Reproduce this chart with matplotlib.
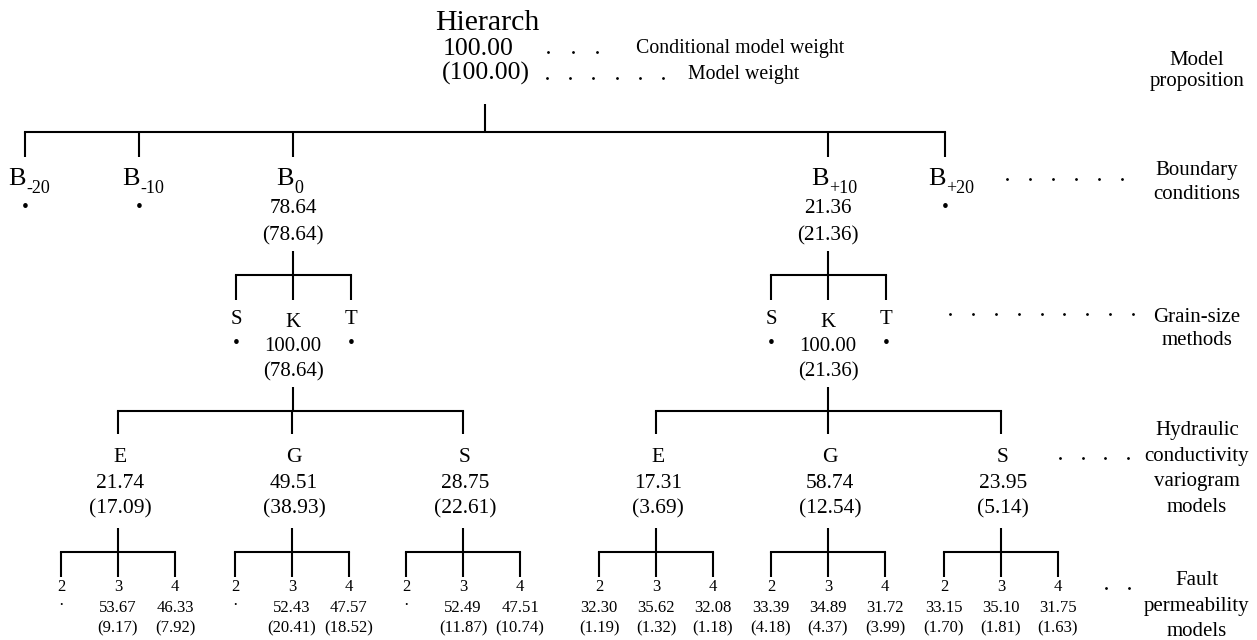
import matplotlib
matplotlib.use("Agg")
from matplotlib import pyplot as plt
import numpy as np

plt.rcParams["font.family"] = ["Liberation Serif", "DejaVu Serif"]

# model weights (conditional, overall); None = model not retained
root_cond = 100.00
root_weight = 100.00

bc_names = ["-20", "-10", "0", "+10", "+20"]
bc_cond = [None, None, 78.64, 21.36, None]
bc_weight = [None, None, 78.64, 21.36, None]

gs_names = ["S", "K", "T"]
gs_cond = [[None, 100.00, None], [None, 100.00, None]]
gs_weight = [[None, 78.64, None], [None, 21.36, None]]

var_names = ["E", "G", "S"]
var_cond = [[21.74, 49.51, 28.75], [17.31, 58.74, 23.95]]
var_weight = [[17.09, 38.93, 22.61], [3.69, 12.54, 5.14]]

fault_names = ["2", "3", "4"]
fault_cond = [
    [[None, 53.67, 46.33], [None, 52.43, 47.57], [None, 52.49, 47.51]],
    [[32.30, 35.62, 32.08], [33.39, 34.89, 31.72], [33.15, 35.10, 31.75]],
]
fault_weight = [
    [[None, 9.17, 7.92], [None, 20.41, 18.52], [None, 11.87, 10.74]],
    [[1.19, 1.32, 1.18], [4.18, 4.37, 3.99], [1.70, 1.81, 1.63]],
]

level_labels = [
    ["Model", "proposition"],
    ["Boundary", "conditions"],
    ["Grain-size", "methods"],
    ["Hydraulic", "conductivity", "variogram", "models"],
    ["Fault", "permeability", "models"],
]

W, H = 1257, 640
fig = plt.figure(figsize=(W / 100, H / 100), dpi=100)
ax = fig.add_axes([0, 0, 1, 1])
ax.set_xlim(0, W)
ax.set_ylim(H, 0)
ax.axis("off")

LW = 1.5


def bracket(px, y_top, y_bar, y_bot, xs):
    ax.plot([px, px], [y_top, y_bar], color="k", lw=LW, solid_capstyle="butt")
    ax.plot([min(xs), max(xs)], [y_bar, y_bar], color="k", lw=LW, solid_capstyle="projecting")
    for x in xs:
        ax.plot([x, x], [y_bar, y_bot], color="k", lw=LW, solid_capstyle="butt")


def leader(x0, x1, n, y):
    xs = np.linspace(x0, x1, n)
    ax.plot(xs, [y] * n, "k.", markersize=2)


def txt(x, y, s, size=15, **kw):
    ax.text(x, y, s, fontsize=size, ha="center", va="baseline", **kw)


# root
txt(487, 30, "Hierarch", size=21.5)
txt(478, 55, f"{root_cond:.2f}", size=18.5)
txt(486, 80, f"({root_weight:.2f})", size=18.5)
leader(548, 597, 3, 52)
leader(547, 663, 6, 78)
ax.text(636, 53, "Conditional model weight", fontsize=14.3, ha="left", va="baseline")
ax.text(688, 79, "Model weight", fontsize=14.3, ha="left", va="baseline")

# boundary conditions
bc_x = [25, 139, 293, 828, 945]
bracket(485, 104, 132, 157, bc_x)
for x, name, c, w in zip(bc_x, bc_names, bc_cond, bc_weight):
    ax.text(x + 1, 185, "B", fontsize=19, ha="right", va="baseline")
    ax.text(x + 1, 193, name, fontsize=13, ha="left", va="baseline")
    if c is None:
        ax.text(x, 207, "\u2022", fontsize=14, ha="center", va="center")
    else:
        txt(x, 213, f"{c:.2f}", size=15.3)
        txt(x, 240, f"({w:.2f})", size=15.3)

# grain-size methods, variograms, faults under retained boundaries
parents = [293, 828]
gs_offsets = [-57, 0, 58]
var_x = [[118, 292, 463], [656, 828, 1001]]
leaf_off = [-57, 0, 57]
for i, px in enumerate(parents):
    gx = [px + o for o in gs_offsets]
    bracket(px, 251, 275, 300, gx)
    for j, (x, name) in enumerate(zip(gx, gs_names)):
        c = gs_cond[i][j]
        w = gs_weight[i][j]
        if c is None:
            txt(x, 324, name)
            ax.text(x, 344, "\u2022", fontsize=14, ha="center", va="center")
        else:
            txt(x, 327, name)
            txt(x, 351, f"{c:.2f}")
            txt(x, 376, f"({w:.2f})")

    bracket(px, 387, 411, 434, var_x[i])
    for j, x in enumerate(var_x[i]):
        txt(x + 2, 462, var_names[j], size=15.5)
        txt(x + 2, 488, f"{var_cond[i][j]:.2f}", size=15.5)
        txt(x + 2, 513, f"({var_weight[i][j]:.2f})", size=15.5)

        lx = [x + o for o in leaf_off]
        bracket(x, 528, 552, 577, lx)
        for k, (x2, name) in enumerate(zip(lx, fault_names)):
            txt(x2, 591, name, size=12)
            c = fault_cond[i][j][k]
            w = fault_weight[i][j][k]
            if c is None:
                ax.text(x2, 606, "\u00b7", fontsize=12, ha="center", va="center")
            else:
                txt(x2, 612, f"{c:.2f}", size=12)
                txt(x2, 632, f"({w:.2f})", size=12)

# level labels on the right
label_base = [[65, 86], [175, 199], [322, 345], [435, 461, 486, 512], [585, 611, 636]]
for lines, ys in zip(level_labels, label_base):
    for s, y in zip(lines, ys):
        txt(1197, y, s)

leader(1007, 1122, 6, 179)
leader(950, 1133, 9, 314)
leader(1060, 1128, 4, 458)
leader(1106, 1129, 2, 588)

fig.savefig("out.png", dpi=100)
